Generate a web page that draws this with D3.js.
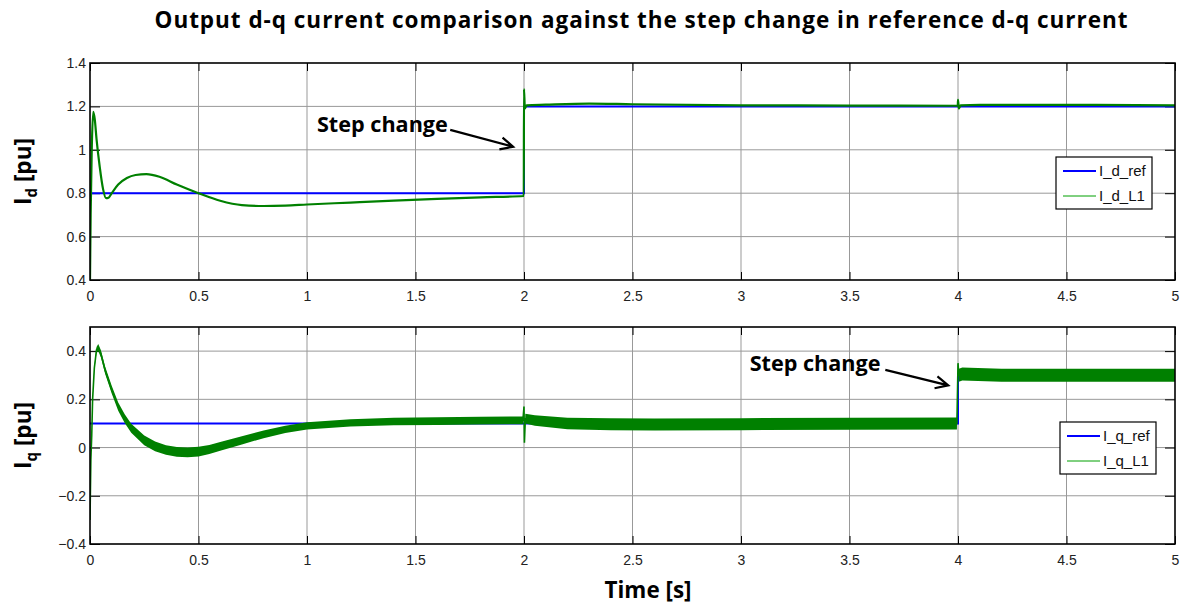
<!DOCTYPE html>
<html lang="en">
<head>
<meta charset="utf-8"/>
<title>Output d-q current comparison</title>
<script src="https://d3js.org/d3.v7.min.js"></script>
<style>
  body { margin: 0; background: #fff; }
  .tick text { font-family: "Liberation Sans", Arial, sans-serif; font-size: 14px; fill: #222; }
  .grid line { stroke: #999; stroke-width: 1; }
  .bold { font-family: "Open Sans", sans-serif; font-weight: bold; fill: #000; }
  .legend text { font-family: "Liberation Sans", Arial, sans-serif; font-size: 15px; fill: #111; }
</style>
</head>
<body>
<div id="chart"></div>
<script>
// ---- data ----
var xTicks = [0, 0.5, 1, 1.5, 2, 2.5, 3, 3.5, 4, 4.5, 5];
var dTicks = [0.4, 0.6, 0.8, 1, 1.2, 1.4];
var qTicks = [-0.4, -0.2, 0, 0.2, 0.4];

// d-axis reference (step after)
var idRefTime  = [0, 2, 5];
var idRefValue = [0.8, 1.2, 1.2];

// d-axis measured current
var idTime  = [0, 0.003, 0.008, 0.015, 0.022, 0.03, 0.045, 0.06, 0.074, 0.085, 0.1, 0.13, 0.17, 0.21, 0.26,
               0.32, 0.4, 0.5, 0.6, 0.7, 0.8, 0.9, 1.0, 1.2, 1.4, 1.6, 1.8, 1.999, 2.0, 2.004, 2.012, 2.1,
               2.3, 2.5, 3.0, 3.5, 3.999, 4.0, 4.004, 4.012, 4.1, 4.5, 5];
var idValue = [0.4, 0.7, 1.0, 1.175, 1.14, 1.05, 0.92, 0.82, 0.777, 0.779, 0.80, 0.84, 0.87, 0.884, 0.888,
               0.876, 0.84, 0.80, 0.765, 0.745, 0.741, 0.743, 0.748, 0.757, 0.766, 0.774, 0.781, 0.787, 1.28, 1.19, 1.205, 1.208,
               1.213, 1.21, 1.205, 1.204, 1.203, 1.23, 1.19, 1.205, 1.207, 1.207, 1.205];

// q-axis reference (step after)
var iqRefTime  = [0, 4, 5];
var iqRefValue = [0.1, 0.3, 0.3];

// q-axis measured current: centre and half ripple band
var iqTime = [0, 0.004, 0.008, 0.012, 0.02, 0.03, 0.038, 0.05, 0.07, 0.1, 0.13, 0.16, 0.19, 0.25, 0.3,
              0.35, 0.4, 0.45, 0.5, 0.55, 0.6, 0.7, 0.8, 0.9, 1.0, 1.2, 1.4, 1.6, 1.8, 1.995,
              2.0, 2.002, 2.006, 2.05, 2.2, 2.4, 2.6, 3.0, 3.5, 3.995, 4.0, 4.004, 4.02, 4.2, 4.6, 5.0];
var iqMid  = [-0.3, -0.05, 0.05, 0.2, 0.33, 0.405, 0.415, 0.39, 0.32, 0.24, 0.17, 0.12, 0.08, 0.03, 0.005,
              -0.01, -0.018, -0.02, -0.017, -0.008, 0.005, 0.03, 0.055, 0.075, 0.09, 0.102, 0.108, 0.11, 0.112, 0.113,
              0.17, 0.02, 0.12, 0.112, 0.1, 0.097, 0.096, 0.097, 0.099, 0.1, 0.35, 0.3, 0.305, 0.3, 0.3, 0.3];
var iqHalf = [0.002, 0.002, 0.002, 0.003, 0.006, 0.012, 0.015, 0.015, 0.015, 0.016, 0.017, 0.018, 0.019, 0.02, 0.02,
              0.02, 0.02, 0.02, 0.02, 0.019, 0.018, 0.017, 0.016, 0.015, 0.015, 0.015, 0.016, 0.016, 0.016, 0.016,
              0.003, 0.003, 0.02, 0.022, 0.024, 0.025, 0.025, 0.025, 0.025, 0.025, 0.003, 0.027, 0.027, 0.027, 0.027, 0.027];

var titleText = "Output d-q current comparison against the step change in reference d-q current";

// ---- layout ----
var width = 1184, height = 605;
var left = 90, right = 1175;
var topPanel = {y0: 63, y1: 280, domain: [0.4, 1.4], ticks: dTicks, sub: "d", legend: ["I_d_ref", "I_d_L1"]};
var botPanel = {y0: 327, y1: 544, domain: [-0.4, 0.5], ticks: qTicks, sub: "q", legend: ["I_q_ref", "I_q_L1"]};

var svg = d3.select("#chart").append("svg")
  .attr("width", width)
  .attr("height", height);

var x = d3.scaleLinear().domain([0, 5]).range([left, right]);

// scale a bold text so that it spans the measured width of the original
function fit(sel, target) {
  var fs = +sel.attr("font-size");
  var w = sel.node().getComputedTextLength();
  sel.attr("font-size", fs * target / w);
  sel.selectAll("tspan").each(function() {
    var t = d3.select(this);
    if (t.attr("font-size")) t.attr("font-size", +t.attr("font-size") * target / w);
  });
}

var title = svg.append("text")
  .attr("class", "bold")
  .attr("x", 641)
  .attr("y", 28)
  .attr("text-anchor", "middle")
  .attr("font-size", 22.5)
  .attr("textLength", 973)
  .text(titleText);

function drawPanel(p) {
  var y = d3.scaleLinear().domain(p.domain).range([p.y1, p.y0]);
  var g = svg.append("g");

  // grid
  var grid = g.append("g").attr("class", "grid");
  grid.selectAll(".v").data(xTicks.slice(1, -1)).enter().append("line")
    .attr("x1", function(d) { return x(d); }).attr("x2", function(d) { return x(d); })
    .attr("y1", p.y0).attr("y2", p.y1);
  grid.selectAll(".h").data(p.ticks.filter(function(d) { return d > p.domain[0] && d < p.domain[1]; }))
    .enter().append("line")
    .attr("x1", left).attr("x2", right)
    .attr("y1", function(d) { return y(d); }).attr("y2", function(d) { return y(d); });

  // axes with inside ticks
  g.append("g")
    .attr("transform", "translate(0," + p.y1 + ")")
    .call(d3.axisBottom(x).tickValues(xTicks).tickSize(-8).tickPadding(11).tickFormat(d3.format("")))
    .call(function(a) { a.select(".domain").remove(); });
  g.append("g")
    .attr("transform", "translate(0," + p.y0 + ")")
    .call(d3.axisTop(x).tickValues(xTicks).tickSize(-8).tickFormat(""))
    .call(function(a) { a.select(".domain").remove(); });
  g.append("g")
    .attr("transform", "translate(" + left + ",0)")
    .call(d3.axisLeft(y).tickValues(p.ticks).tickSize(-10).tickPadding(4).tickFormat(d3.format("")))
    .call(function(a) { a.select(".domain").remove(); });
  g.append("g")
    .attr("transform", "translate(" + right + ",0)")
    .call(d3.axisRight(y).tickValues(p.ticks).tickSize(-10).tickFormat(""))
    .call(function(a) { a.select(".domain").remove(); });
  g.selectAll(".tick line").attr("stroke", "#000");

  // y label
  var lab = svg.append("text")
    .attr("class", "bold")
    .attr("font-size", 21)
    .attr("text-anchor", "middle")
    .attr("transform", "translate(31," + ((p.y0 + p.y1) / 2) + ") rotate(-90)");
  lab.append("tspan").text("I");
  lab.append("tspan").attr("font-size", 14).attr("dy", 6).text(p.sub);
  lab.append("tspan").attr("dy", -6).text(" [pu]");
  fit(lab, 67);

  p.y = y;
  p.g = g;
  return p;
}

var pd = drawPanel(topPanel);
var pq = drawPanel(botPanel);

function clip(p, id) {
  svg.append("clipPath").attr("id", id).append("rect")
    .attr("x", left).attr("y", p.y0).attr("width", right - left).attr("height", p.y1 - p.y0);
}
clip(pd, "clipD");
clip(pq, "clipQ");

// d-axis lines
var dLayer = svg.append("g").attr("clip-path", "url(#clipD)");
dLayer.append("path")
  .datum(d3.zip(idRefTime, idRefValue))
  .attr("fill", "none").attr("stroke", "#0000ff").attr("stroke-width", 2)
  .attr("d", d3.line().curve(d3.curveStepAfter).x(function(d) { return x(d[0]); }).y(function(d) { return pd.y(d[1]); }));
dLayer.append("path")
  .datum(d3.zip(idTime, idValue))
  .attr("fill", "none").attr("stroke", "#008000").attr("stroke-width", 2.2)
  .attr("d", d3.line().curve(d3.curveMonotoneX).x(function(d) { return x(d[0]); }).y(function(d) { return pd.y(d[1]); }));

// q-axis lines
var qLayer = svg.append("g").attr("clip-path", "url(#clipQ)");
qLayer.append("path")
  .datum(d3.zip(iqRefTime, iqRefValue))
  .attr("fill", "none").attr("stroke", "#0000ff").attr("stroke-width", 2)
  .attr("d", d3.line().curve(d3.curveStepAfter).x(function(d) { return x(d[0]); }).y(function(d) { return pq.y(d[1]); }));
var qData = d3.zip(iqTime, iqMid, iqHalf);
qLayer.append("path")
  .datum(qData)
  .attr("fill", "#008000")
  .attr("d", d3.area()
    .x(function(d) { return x(d[0]); })
    .y0(function(d) { return pq.y(d[1] - d[2]); })
    .y1(function(d) { return pq.y(d[1] + d[2]); }));
qLayer.append("path")
  .datum(qData)
  .attr("fill", "none").attr("stroke", "#008000").attr("stroke-width", 1.6)
  .attr("d", d3.line().x(function(d) { return x(d[0]); }).y(function(d) { return pq.y(d[1]); }));

// axis boxes on top
[pd, pq].forEach(function(p) {
  svg.append("rect")
    .attr("x", left).attr("y", p.y0).attr("width", right - left).attr("height", p.y1 - p.y0)
    .attr("fill", "none").attr("stroke", "#000").attr("stroke-width", 1.6);
});

// legends
function legend(p, lx, ly) {
  var lg = svg.append("g").attr("class", "legend").attr("transform", "translate(" + lx + "," + ly + ")");
  lg.append("rect").attr("width", 96).attr("height", 52).attr("fill", "#fff").attr("stroke", "#000").attr("stroke-width", 1.2);
  var cols = ["#0000ff", "#00a000"], sw = [2, 1];
  p.legend.forEach(function(name, i) {
    lg.append("line").attr("x1", 7).attr("x2", 40).attr("y1", 14 + i * 25).attr("y2", 14 + i * 25)
      .attr("stroke", cols[i]).attr("stroke-width", sw[i]);
    lg.append("text").attr("x", 43).attr("y", 19 + i * 25).text(name);
  });
}
legend(pd, 1056, 157);
legend(pq, 1060, 422);

// annotations
function annotate(p, tx, ty, sx, sy, ex, ey) {
  var t = svg.append("text").attr("class", "bold").attr("font-size", 21)
    .attr("x", x(tx)).attr("y", p.y(ty)).attr("dy", "0.35em").text("Step change");
  fit(t, 131);
  var x1 = x(sx), y1 = p.y(sy), x2 = x(ex), y2 = p.y(ey);
  var a = Math.atan2(y2 - y1, x2 - x1), L = 14, s = 0.45;
  svg.append("path")
    .attr("fill", "none").attr("stroke", "#000").attr("stroke-width", 2.2)
    .attr("d", "M" + x1 + "," + y1 + "L" + x2 + "," + y2 +
      "M" + (x2 - L * Math.cos(a - s)) + "," + (y2 - L * Math.sin(a - s)) +
      "L" + x2 + "," + y2 +
      "L" + (x2 - L * Math.cos(a + s)) + "," + (y2 - L * Math.sin(a + s)));
}
annotate(pd, 1.046, 1.115, 1.66, 1.092, 1.95, 1.014);
annotate(pq, 3.04, 0.349, 3.665, 0.322, 3.955, 0.258);

// x label
var xl = svg.append("text").attr("class", "bold").attr("font-size", 21)
  .attr("x", 648).attr("y", 598).attr("text-anchor", "middle").text("Time [s]");
fit(xl, 87);
</script>
</body>
</html>
